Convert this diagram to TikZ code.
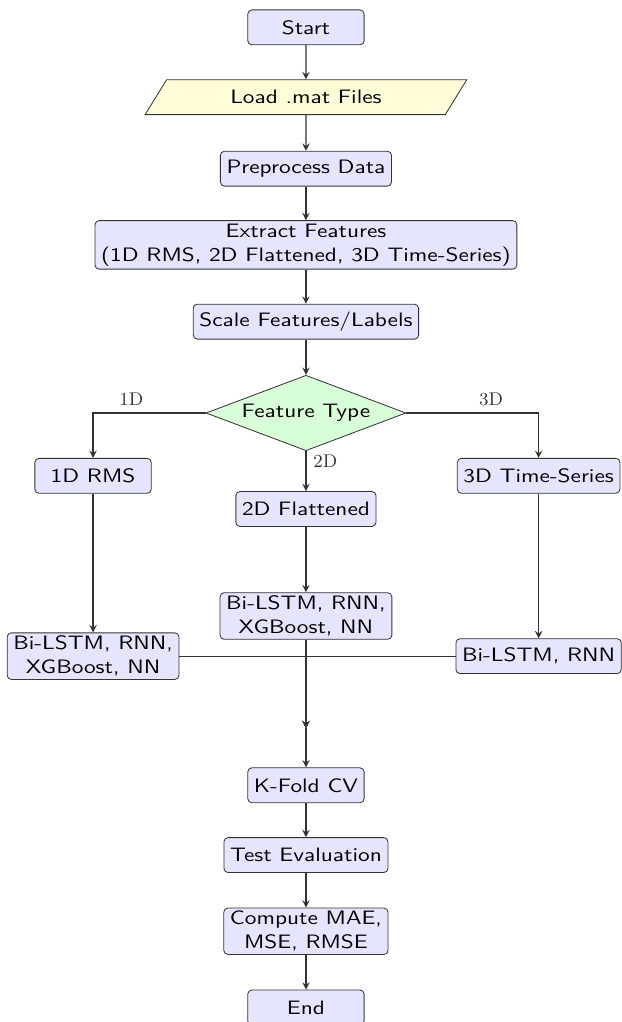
\documentclass[tikz,border=0pt]{standalone}
\usepackage{fontspec}
\newfontfamily\cajafont{lmsans10-regular.otf}[FakeStretch=1.2]
\usepackage{tikz}
\usetikzlibrary{shapes.geometric, arrows, positioning}
\tikzset{
	>=stealth, % Puntas de flecha
	node distance=1.2cm, % Distancia entre centros de nodos
	proceso/.style={rectangle, rounded corners=2pt, draw=black!80, fill=blue!10, minimum width=2cm, minimum height=0.6cm, inner xsep=3pt, inner ysep=1.5pt, align=center, font=\cajafont\fontsize{9.5}{11.8}\selectfont}, % Cajas de proceso
	entrada/.style={trapezium, trapezium left angle=65, trapezium right angle=115, trapezium stretches=true, draw=black!80, fill=yellow!15, minimum width=5.55cm, minimum height=0.6cm, font=\cajafont\fontsize{9.5}{11.8}\selectfont}, % Lectura de datos
	decision/.style={diamond, aspect=2.65, draw=black!80, fill=green!15, inner sep=1.7pt, font=\cajafont\fontsize{9.5}{11.8}\selectfont}, % Nodo de decision
	flecha/.style={->, semithick, black!80}, % Conectores
	rama/.style={font=\small} % Etiquetas de las ramas
}

\begin{document}
\begin{tikzpicture}
				\useasboundingbox (-5.26,0.47) rectangle (5.42,-17.1);
				\node[proceso] (start) {Start};
				\node[entrada, below of=start] (load) {Load .mat Files};
				\node[proceso, below of=load, node distance=1.23cm] (pre) {Preprocess Data};
				\node[proceso, below of=pre, node distance=1.31cm] (ext) {Extract Features\\(1D RMS, 2D Flattened, 3D Time-Series)};
				\node[proceso, below of=ext, node distance=1.32cm] (scale) {Scale Features/Labels};
				\node[decision, below of=scale, node distance=1.57cm] (tipo) {Feature Type};
				
				\node[proceso, below of=tipo, node distance=1.08cm, xshift=-3.66cm] (rms) {1D RMS};
				\node[proceso, below of=tipo, node distance=1.65cm] (flat) {2D Flattened};
				\node[proceso, below of=tipo, node distance=1.08cm, xshift=4.0cm] (ts) {3D Time-Series};
				
				\node[proceso, below of=rms, node distance=3.1cm] (mrms) {Bi-LSTM, RNN,\\XGBoost, NN};
				\node[proceso, below of=flat, node distance=1.84cm] (mflat) {Bi-LSTM, RNN,\\XGBoost, NN};
				\node[proceso, below of=ts, node distance=3.1cm] (mts) {Bi-LSTM, RNN};
				
				\coordinate[below of=mflat, node distance=1.93cm] (union);
				\node[proceso, below of=union, node distance=0.98cm] (kfold) {K-Fold CV};
				\node[proceso, below of=kfold, node distance=1.2cm] (test) {Test Evaluation};
				\node[proceso, below of=test, node distance=1.31cm] (metric) {Compute MAE,\\MSE, RMSE};
				\node[proceso, below of=metric, node distance=1.31cm] (end) {End};
				
				\draw[flecha] (start) -- (load);
				\draw[flecha] (load) -- (pre);
				\draw[flecha] (pre) -- (ext);
				\draw[flecha] (ext) -- (scale);
				\draw[flecha] (scale) -- (tipo);
				\draw[flecha] (tipo.west) -| node[rama, above, pos=0.33] {1D} (rms);
				\draw[flecha] (tipo) -- node[rama, right, near start] {2D} (flat);
				\draw[flecha] (tipo.east) -| node[rama, above, pos=0.32] {3D} (ts);
				\draw[flecha] (rms) -- (mrms);
				\draw[flecha] (flat) -- (mflat);
				\draw[flecha] (ts) -- (mts);
				\draw[flecha] (mrms.east) -| (union);
				\draw[flecha] (mts.west) -| (union);
				\draw[flecha] (mflat) -- (union);
				\draw[flecha] (union) -- (kfold);
				\draw[flecha] (kfold) -- (test);
				\draw[flecha] (test) -- (metric);
				\draw[flecha] (metric) -- (end);
\end{tikzpicture}
\end{document}
